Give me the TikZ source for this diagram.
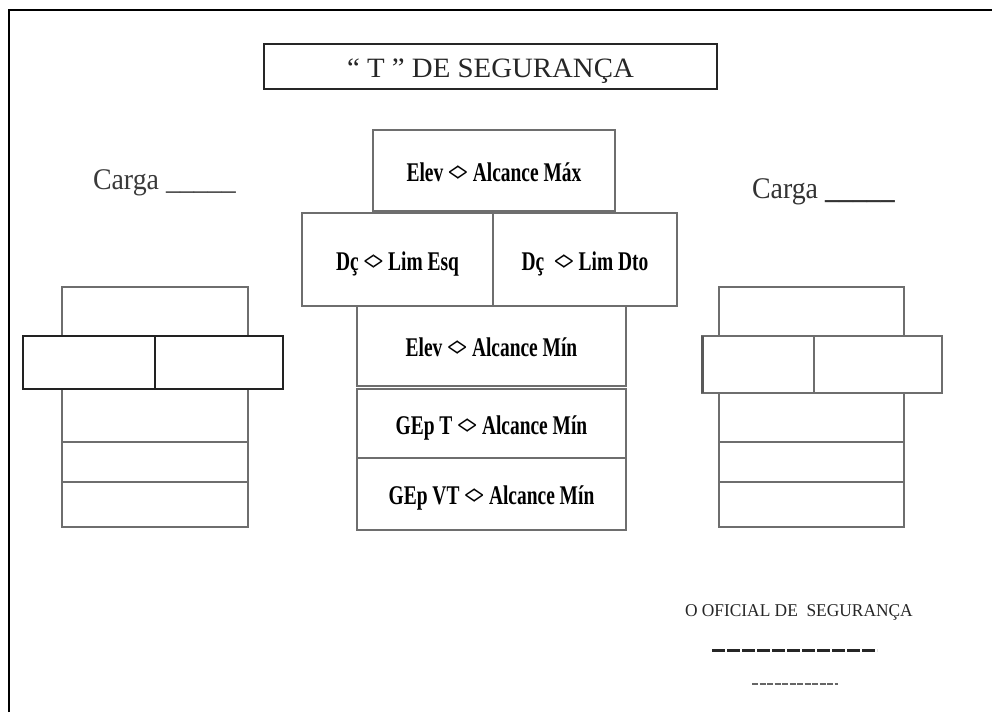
\documentclass[tikz,border=0pt]{standalone}
\usepackage{fontspec}
\usepackage{graphicx}
\setmainfont{Liberation Serif}
\definecolor{boxgray}{HTML}{6E6E6E}
\definecolor{txtgray}{HTML}{3A3A3A}
\definecolor{darkline}{HTML}{222222}
\newcommand\condtxt[1]{\scalebox{0.72}[1]{\fontsize{27}{30}\selectfont\bfseries #1}}
\newcommand\dia{<\kern-0.12em>}
\tikzset{
  cbox/.style={draw=boxgray, line width=1.4pt, inner sep=0pt, outer sep=0pt,
    text height=21pt, text depth=0pt, align=center},
  sbox/.style={draw=boxgray, line width=1.4pt, inner sep=0pt, outer sep=0pt},
  dbox/.style={draw=darkline, line width=2.2pt, inner sep=0pt, outer sep=0pt},
  tbox/.style={draw=black!85, line width=2pt, inner sep=0pt, outer sep=0pt,
    text height=22pt, text depth=0pt},
  lbl/.style={inner sep=0pt, outer sep=0pt, anchor=base west, text=txtgray},
}
\begin{document}
\begin{tikzpicture}[x=1pt,y=-1pt]
\useasboundingbox (0,0) rectangle (992,712);
% outer border
\coordinate (bl) at (9,712);
\coordinate (tl) at (9,10);
\coordinate (tr) at (992,10);
\draw[line width=2.5pt, black] (bl) -- (tl) -- (tr);

% title
\node[tbox, minimum width=453pt, minimum height=45pt, text=black!85] (title) at (490.5,66.5)
  {\scalebox{1.03}[1]{\fontsize{28}{30}\selectfont “ T ” DE SEGURANÇA}};

% central T
\node[cbox, minimum width=242pt, minimum height=81pt] (b1) at (494,170.5) {\condtxt{Elev \dia{} Alcance Máx}};
\node[cbox, minimum width=191pt, minimum height=93pt] (b2l) at (397.5,259.5) {\condtxt{Dç \dia{} Lim Esq}};
\node[cbox, minimum width=184pt, minimum height=93pt] (b2r) at (585,259.5) {\condtxt{Dç~ \dia{} Lim Dto}};
\node[cbox, minimum width=269pt, minimum height=80pt] (b3) at (491.5,346) {\condtxt{Elev \dia{} Alcance Mín}};
\node[cbox, minimum width=269pt, minimum height=69pt] (b4) at (491.5,423.5) {\condtxt{GEp T \dia{} Alcance Mín}};
\node[cbox, minimum width=269pt, minimum height=72pt] (b5) at (491.5,494) {\condtxt{GEp VT \dia{} Alcance Mín}};

% left Carga
\node[lbl] (cargaL) at (93,189) {\scalebox{0.93}[1]{\fontsize{30}{32}\selectfont Carga \_\_\_\_\_}};
% right Carga
\node[lbl, text=black!80] (cargaR) at (752,198) {\scalebox{0.93}[1]{\fontsize{30}{32}\selectfont Carga \textbf{\_\_\_\_\_}}};

% left stack
\node[sbox, minimum width=186pt, minimum height=49pt] (l1) at (155,311.5) {};
\node[sbox, minimum width=186pt, minimum height=53pt] (l3) at (155,415.5) {};
\node[sbox, minimum width=186pt, minimum height=40pt] (l4) at (155,462) {};
\node[sbox, minimum width=186pt, minimum height=45pt] (l5) at (155,504.5) {};
\node[dbox, minimum width=132pt, minimum height=53pt] (lm1) at (89,362.5) {};
\node[dbox, minimum width=128pt, minimum height=53pt] (lm2) at (219,362.5) {};

% right stack
\node[sbox, minimum width=185pt, minimum height=49pt] (r1) at (811.5,311.5) {};
\node[sbox, minimum width=185pt, minimum height=49pt] (r3) at (811.5,417.5) {};
\node[sbox, minimum width=185pt, minimum height=40pt] (r4) at (811.5,462) {};
\node[sbox, minimum width=185pt, minimum height=45pt] (r5) at (811.5,504.5) {};
\node[sbox, minimum width=112pt, minimum height=57pt] (rm1) at (758,364.5) {};
\node[sbox, minimum width=128pt, minimum height=57pt] (rm2) at (878,364.5) {};
\draw[line width=3pt, black!65] (rm1.north west) -- (rm1.south west);

% signature
\node[lbl, text=black!85] (oficial) at (685,616)
  {\scalebox{0.965}[1]{\fontsize{18}{20}\selectfont O OFICIAL DE~ SEGURANÇA}};
\coordinate (s1a) at (712,650);
\coordinate (s1b) at (877,650);
\draw[line width=3pt, black!85, dash pattern=on 13pt off 2pt] (s1a) -- (s1b);
\coordinate (s2a) at (752,684);
\coordinate (s2b) at (838,684);
\draw[line width=1.5pt, black!60, dash pattern=on 6pt off 1.5pt] (s2a) -- (s2b);
\end{tikzpicture}
\end{document}
